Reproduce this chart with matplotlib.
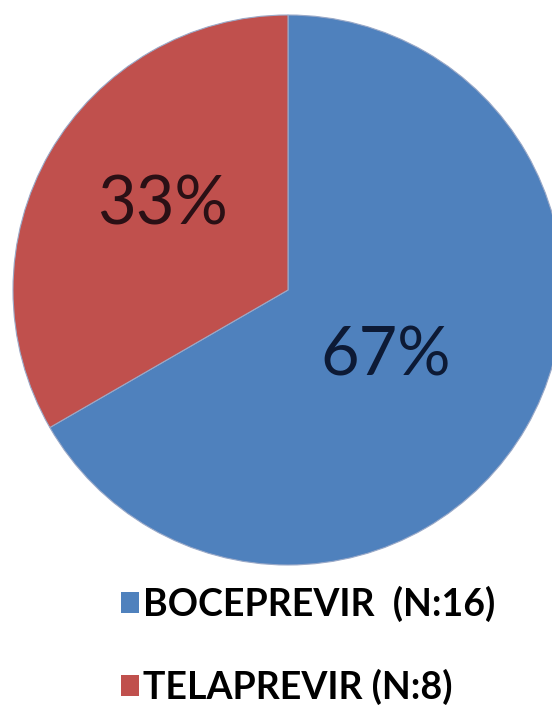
import matplotlib
matplotlib.use("Agg")
import matplotlib.pyplot as plt
from matplotlib.patches import Patch
import numpy as np

labels = ["BOCEPREVIR  (N:16)", "TELAPREVIR (N:8)"]
counts = [16, 8]
colors = ["#4F81BD", "#C0504D"]
pct_colors = ["#0d1a35", "#2a1015"]
pct_dist = [0.43, 0.55]

W, H = 552, 711
fig = plt.figure(figsize=(W / 100, H / 100), dpi=100)
fig.patch.set_facecolor("white")

# pie axes: center ~(288,290) px, radius ~275 px
r = 275
cx, cy = 288, 290
ax = fig.add_axes([(cx - r) / W, (H - cy - r) / H, 2 * r / W, 2 * r / H])

wedges, texts, autotexts = ax.pie(
    counts, colors=colors, startangle=90, counterclock=False,
    radius=1, autopct=lambda p: f"{p:.0f}%", pctdistance=0.45,
    wedgeprops=dict(linewidth=0.8, edgecolor="#9aa9c8"),
    textprops=dict(fontsize=48, family="Lato"))
for w, t, c, d in zip(wedges, autotexts, pct_colors, pct_dist):
    th = np.radians((w.theta1 + w.theta2) / 2 - 4)
    t.set_position((d * np.cos(th), d * np.sin(th)))
    t.set_color(c)
ax.set_xlim(-1, 1)
ax.set_ylim(-1, 1)
ax.set_aspect("equal")
ax.axis("off")

handles = [Patch(facecolor=c, edgecolor="none") for c in colors]
fig.legend(handles, labels, loc="upper left", bbox_to_anchor=(121 / W, 1 - 586 / H),
           frameon=False, prop=dict(family="Lato", weight="bold", size=27),
           handlelength=0.48, handleheight=0.48, handletextpad=0.1,
           labelspacing=1.25, borderaxespad=0, borderpad=0)

fig.savefig("out.png", dpi=100)
